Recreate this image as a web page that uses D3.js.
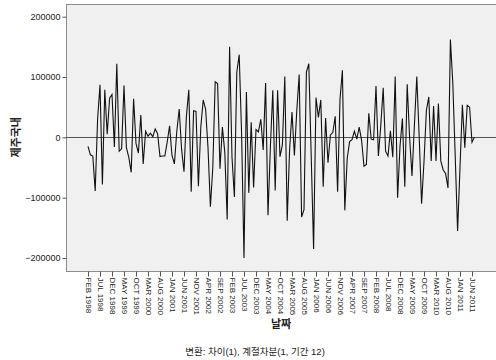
<!DOCTYPE html>
<html lang="ko">
<head>
<meta charset="utf-8">
<title>제주국내 - 차이(1), 계절차분(1, 기간 12)</title>
<script src="https://d3js.org/d3.v7.min.js"></script>
<style>
  body { margin: 0; background: #fff; }
  svg text { font-family: "Liberation Sans", Arial, "Noto Sans CJK KR", sans-serif; fill: #222; }
  .axis .domain { display: none; }
  .axis line { stroke: #555; }
</style>
</head>
<body>
<div id="chart"></div>
<script>
// monthly values, FEB 1998 .. JUL 2011
var values = [
  -15000, -29000, -31000, -89000, 30000, 87000, -78000, 79000, 5000, 65000,
  71000, -16000, 122000, -23000, -19000, 86000, -17000, -33000, -58000, 64000,
  -10000, -26000, 37000, -44000, 10000, 2000, 7000, 1000, 14000, 6000,
  -32000, -31000, -31000, -8000, 19000, -30000, -44000, 10000, 47000, -20000,
  -57000, 35000, 79000, -90000, 44000, 43000, -81000, 17000, 62000, 47000,
  -17000, -115000, -50000, 92000, 89000, -52000, 17000, -25000, -136000, 150000,
  -33000, -99000, 108000, 137000, 6000, -200000, 75000, -92000, 25000, -83000,
  13000, 9000, 30000, -21000, 90000, -129000, -15000, 78000, -88000, 78000,
  -32000, -12000, 101000, -138000, -20000, 42000, -30000, 45000, 104000, -132000,
  -120000, 108000, 122000, -30000, -185000, 66000, 33000, 62000, -82000, 32000,
  -42000, 4000, 8000, 35000, -90000, 63000, 111000, -121000, -35000, -7000,
  -4000, 10000, -3000, 17000, -5000, -48000, -45000, 40000, -3000, -4000,
  85000, -31000, 20000, 82000, -23000, -31000, 11000, -33000, 101000, -100000,
  -15000, 31000, -82000, 88000, 0, -64000, 20000, 101000, 0, -110000,
  -40000, 45000, 67000, -39000, 52000, -39000, 56000, -39000, -54000, -60000,
  -84000, 162000, 90000, -30000, -155000, -50000, 54000, -17000, 53000, 50000,
  -8000, 0
];

// every 5th category is labelled
var tickLabels = [
  "FEB 1998", "JUL 1998", "DEC 1998", "MAY 1999", "OCT 1999", "MAR 2000",
  "AUG 2000", "JAN 2001", "JUN 2001", "NOV 2001", "APR 2002", "SEP 2002",
  "FEB 2003", "JUL 2003", "DEC 2003", "MAY 2004", "OCT 2004", "MAR 2005",
  "AUG 2005", "JAN 2006", "JUN 2006", "NOV 2006", "APR 2007", "SEP 2007",
  "FEB 2008", "JUL 2008", "DEC 2008", "MAY 2009", "OCT 2009", "MAR 2010",
  "AUG 2010", "JAN 2011", "JUN 2011"
];
var tickStep = 5;
var yTicks = [-200000, -100000, 0, 100000, 200000];

var yTitle = "제주국내";
var xTitle = "날짜";
var footnote = "변환: 차이(1), 계절차분(1, 기간 12)";

var width = 496, height = 360;
var plot = { left: 66, top: 4, right: 500, bottom: 271 };

var svg = d3.select("#chart").append("svg")
  .attr("width", width)
  .attr("height", height);

var x = d3.scaleLinear()
  .domain([0, values.length - 1])
  .range([88, 88 + 2.4 * (values.length - 1)]);

var y = d3.scaleLinear()
  .domain([-221500, 221000])
  .range([plot.bottom, plot.top]);

// plot background + frame
svg.append("rect")
  .attr("x", plot.left + 0.5)
  .attr("y", plot.top + 0.5)
  .attr("width", plot.right - plot.left)
  .attr("height", plot.bottom - plot.top)
  .attr("fill", "#f0f0f0")
  .attr("stroke", "#8c8c8c")
  .attr("stroke-width", 1);

// reference line at 0
svg.append("line")
  .attr("x1", plot.left)
  .attr("x2", plot.right)
  .attr("y1", Math.round(y(0)) + 0.5)
  .attr("y2", Math.round(y(0)) + 0.5)
  .attr("stroke", "#555")
  .attr("stroke-width", 1.2);

var line = d3.line()
  .x(function(d, i) { return x(i); })
  .y(function(d) { return y(d); });

svg.append("path")
  .datum(values)
  .attr("d", line)
  .attr("fill", "none")
  .attr("stroke", "#111")
  .attr("stroke-width", 1.1)
  .attr("stroke-linejoin", "miter");

// y axis
var yAxis = svg.append("g")
  .attr("class", "axis")
  .attr("transform", "translate(" + (plot.left + 0.5) + ",0)")
  .call(d3.axisLeft(y).tickValues(yTicks).tickSize(4).tickPadding(2).tickFormat(d3.format("d")));
yAxis.selectAll("text").style("font-size", "9px");

// x axis, labels turned to read downwards
var xAxis = svg.append("g")
  .attr("class", "axis")
  .attr("transform", "translate(0," + (plot.bottom + 0.5) + ")")
  .call(d3.axisBottom(x)
    .tickValues(d3.range(0, values.length, tickStep))
    .tickSize(5)
    .tickFormat(function(i) { return tickLabels[i / tickStep]; }));
xAxis.selectAll("text")
  .style("font-size", "8px")
  .style("text-anchor", "start")
  .attr("transform", "rotate(90)")
  .attr("x", 6)
  .attr("y", 0)
  .attr("dy", "0.35em");

// titles
svg.append("text")
  .attr("transform", "translate(20," + y(0) + ") rotate(-90)")
  .attr("text-anchor", "middle")
  .style("font-size", "11px")
  .style("font-weight", "bold")
  .text(yTitle);

svg.append("text")
  .attr("x", (plot.left + width) / 2)
  .attr("y", 328)
  .attr("text-anchor", "middle")
  .style("font-size", "11px")
  .style("font-weight", "bold")
  .text(xTitle);

svg.append("text")
  .attr("x", 255)
  .attr("y", 355)
  .attr("text-anchor", "middle")
  .style("font-size", "9.5px")
  .text(footnote);
</script>
</body>
</html>
